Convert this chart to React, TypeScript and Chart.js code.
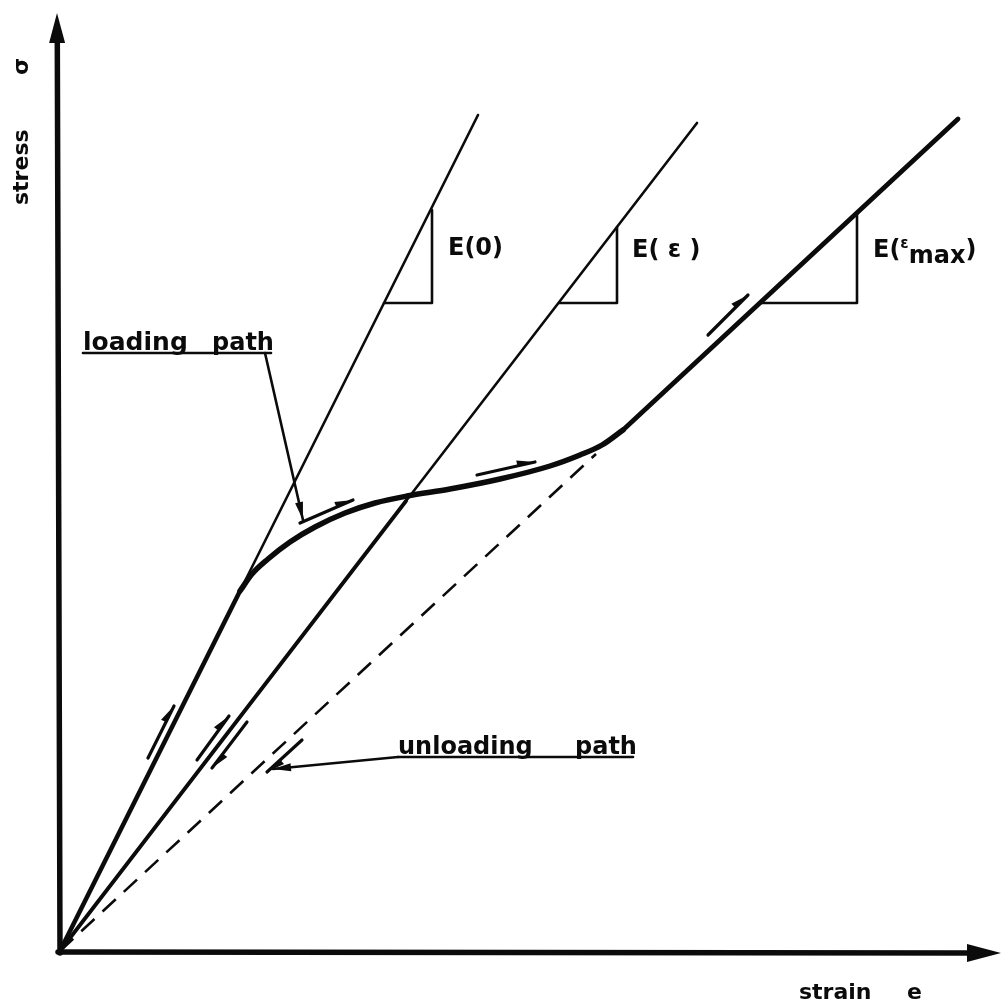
import React, { useEffect, useRef } from "react";
import { Chart, registerables } from "chart.js";

Chart.register(...registerables);

type P = [number, number];

// Drawing units: strain along x, stress along y, origin at the axes corner.
const X_MIN = -6.0;
const X_MAX = 94.2;
const Y_MIN = -5.4;
const Y_MAX = 95.1;

const INK = "#0b0b0b";

// Axes (shaft end, then arrow tip)
const yAxisShaft: P[] = [[0, -0.2], [-0.27, 91.0]];
const yAxisTip: P = [-0.3, 93.8];
const xAxisShaft: P[] = [[-0.2, -0.1], [91.4, -0.2]];
const xAxisTip: P = [94.1, -0.2];

// Initial modulus E(0): loaded part and tangent continuation
const e0Loaded: P[] = [[0, 0], [18.0, 36.0]];
const e0Tangent: P[] = [[18.0, 36.0], [41.8, 83.6]];

// Secant/reloading modulus E(ε)
const eEpsReload: P[] = [[0, 0], [34.6, 45.0]];
const eEpsTangent: P[] = [[34.6, 45.0], [63.7, 82.8]];

// Softening part of the loading path
const loadingCurve: P[] = [
  [18.0, 36.0],
  [19.2, 37.7],
  [20.8, 39.2],
  [23.0, 40.9],
  [25.5, 42.4],
  [28.5, 43.8],
  [31.5, 44.8],
  [34.7, 45.5],
  [39.0, 46.2],
  [44.0, 47.2],
  [49.0, 48.5],
  [52.0, 49.6],
  [54.2, 50.6],
  [56.3, 52.1],
];

// Modulus at maximum strain E(εmax)
const eMaxBranch: P[] = [[56.3, 52.1], [89.8, 83.2]];
const unloadingPath: P[] = [[0, 0], [53.6, 49.7]];

// Slope triangles
const triE0: P[] = [[32.4, 64.8], [37.2, 64.8], [37.2, 74.1]];
const triEps: P[] = [[49.9, 64.8], [55.7, 64.8], [55.7, 72.4]];
const triEmax: P[] = [[69.9, 64.8], [79.7, 64.8], [79.7, 73.9]];

// Direction marks along the paths: [start, tip]
const marks: P[][] = [
  [[8.8, 19.3], [11.4, 24.5]],
  [[13.7, 19.1], [16.9, 23.5]],
  [[18.7, 22.9], [15.2, 18.3]],
  [[24.2, 21.1], [20.7, 17.9]],
  [[24.0, 42.8], [29.3, 45.1]],
  [[41.7, 47.6], [47.5, 48.9]],
  [[64.8, 61.6], [68.8, 65.6]],
];

// Label leaders: underline and pointer
const loadingUnderline: P[] = [[2.3, 59.8], [21.1, 59.8]];
const loadingPointer: P[] = [[20.5, 59.8], [24.3, 43.1]];
const unloadingUnderline: P[] = [[33.8, 19.4], [57.3, 19.4]];
const unloadingPointer: P[] = [[33.8, 19.4], [21.3, 18.2]];

type Run = { t: string; size: number; dy?: number };
type Label = { at: P; runs: Run[]; rotate?: boolean };

const FONT = '"DejaVu Sans", "Liberation Sans", sans-serif';

const labels: Label[] = [
  { at: [38.8, 69.6], runs: [{ t: "E(0)", size: 24 }] },
  { at: [57.2, 69.4], runs: [{ t: "E( ε )", size: 24 }] },
  {
    at: [81.3, 69.4],
    runs: [
      { t: "E(", size: 24 },
      { t: "ε", size: 15, dy: -9 },
      { t: "max", size: 24, dy: 6 },
      { t: ")", size: 24 },
    ],
  },
  { at: [2.3, 60.1], runs: [{ t: "loading", size: 25 }] },
  { at: [15.2, 60.1], runs: [{ t: "path", size: 24 }] },
  { at: [33.8, 19.7], runs: [{ t: "unloading", size: 24 }] },
  { at: [51.5, 19.7], runs: [{ t: "path", size: 24 }] },
  { at: [73.9, -4.8], runs: [{ t: "strain", size: 22 }] },
  { at: [84.7, -4.8], runs: [{ t: "e", size: 22 }] },
  { at: [-3.2, 74.6], runs: [{ t: "stress", size: 22 }], rotate: true },
  { at: [-3.2, 87.6], runs: [{ t: "σ", size: 22 }], rotate: true },
];

function seg(points: P[], width: number, extra: Record<string, unknown> = {}) {
  return {
    data: points.map(([x, y]) => ({ x, y })),
    showLine: true,
    borderColor: INK,
    backgroundColor: INK,
    borderWidth: width,
    pointRadius: 0,
    fill: false,
    borderCapStyle: "round",
    borderJoinStyle: "round",
    ...extra,
  };
}

function head(
  ctx: CanvasRenderingContext2D,
  from: number[],
  tip: number[],
  len: number,
  w: number,
  side: number
) {
  const dx = tip[0] - from[0];
  const dy = tip[1] - from[1];
  const d = Math.hypot(dx, dy) || 1;
  const ux = dx / d;
  const uy = dy / d;
  const nx = uy;
  const ny = -ux;
  const bx = tip[0] - len * ux;
  const by = tip[1] - len * uy;
  ctx.beginPath();
  ctx.moveTo(tip[0], tip[1]);
  if (side === 0) {
    ctx.lineTo(bx + w * nx, by + w * ny);
    ctx.lineTo(bx - w * nx, by - w * ny);
  } else {
    ctx.lineTo(bx + side * w * nx, by + side * w * ny);
    ctx.lineTo(bx, by);
  }
  ctx.closePath();
  ctx.fill();
}

const overlay = {
  id: "overlay",
  afterDatasetsDraw(chart: Chart) {
    const ctx = chart.ctx;
    const sx = chart.scales.x;
    const sy = chart.scales.y;
    const px = (p: P) => [sx.getPixelForValue(p[0]), sy.getPixelForValue(p[1])];
    ctx.save();
    ctx.fillStyle = INK;
    ctx.strokeStyle = INK;
    ctx.lineCap = "round";
    ctx.lineJoin = "round";

    // axis arrow heads
    head(ctx, px(yAxisShaft[0]), px(yAxisTip), 30, 8, 0);
    head(ctx, px(xAxisShaft[0]), px(xAxisTip), 34, 9, 0);

    // direction marks
    ctx.lineWidth = 3.2;
    for (const [a, b] of marks) {
      const pa = px(a);
      const pb = px(b);
      ctx.beginPath();
      ctx.moveTo(pa[0], pa[1]);
      ctx.lineTo(pb[0], pb[1]);
      ctx.stroke();
      head(ctx, pa, pb, 18, 5.5, 1);
    }

    // pointer heads
    head(ctx, px(loadingPointer[0]), px(loadingPointer[1]), 18, 4, 0);
    head(ctx, px(unloadingPointer[0]), px(unloadingPointer[1]), 18, 4, 0);

    // text
    ctx.textBaseline = "alphabetic";
    ctx.textAlign = "left";
    for (const lab of labels) {
      const [x0, y0] = px(lab.at);
      ctx.save();
      ctx.translate(x0, y0);
      if (lab.rotate) ctx.rotate(-Math.PI / 2);
      let x = 0;
      for (const r of lab.runs) {
        ctx.font = `bold ${r.size}px ${FONT}`;
        ctx.fillText(r.t, x, r.dy || 0);
        x += ctx.measureText(r.t).width;
      }
      ctx.restore();
    }
    ctx.restore();
  },
};

export default function App() {
  const ref = useRef<HTMLCanvasElement | null>(null);

  useEffect(() => {
    if (!ref.current) return;
    const datasets = [
      seg(yAxisShaft, 5.5),
      seg(xAxisShaft, 5.5),
      seg(e0Loaded, 4.5),
      seg(e0Tangent, 2.6),
      seg(eEpsReload, 3.8),
      seg(eEpsTangent, 2.6),
      seg(loadingCurve, 5.5, { cubicInterpolationMode: "monotone" }),
      seg(eMaxBranch, 4.8),
      seg(unloadingPath, 2.6, { borderDash: [18, 11], borderCapStyle: "butt" }),
      seg(triE0, 2.6),
      seg(triEps, 2.6),
      seg(triEmax, 2.6),
      seg(loadingUnderline, 2.6),
      seg(loadingPointer, 2.6),
      seg(unloadingUnderline, 2.6),
      seg(unloadingPointer, 2.6),
    ];
    const chart = new Chart(ref.current, {
      type: "scatter",
      data: { datasets: datasets as any },
      options: {
        animation: false,
        responsive: false,
        devicePixelRatio: 1,
        events: [],
        layout: { padding: 0 },
        plugins: { legend: { display: false }, tooltip: { enabled: false } },
        scales: {
          x: { type: "linear", display: false, min: X_MIN, max: X_MAX },
          y: { type: "linear", display: false, min: Y_MIN, max: Y_MAX },
        },
      },
      plugins: [overlay as any],
    });
    return () => chart.destroy();
  }, []);

  return (
    <div
      style={{
        position: "fixed",
        left: 0,
        top: 0,
        width: 1002,
        height: 1005,
        background: "#ffffff",
      }}
    >
      <canvas ref={ref} width={1002} height={1005} style={{ display: "block" }} />
    </div>
  );
}
